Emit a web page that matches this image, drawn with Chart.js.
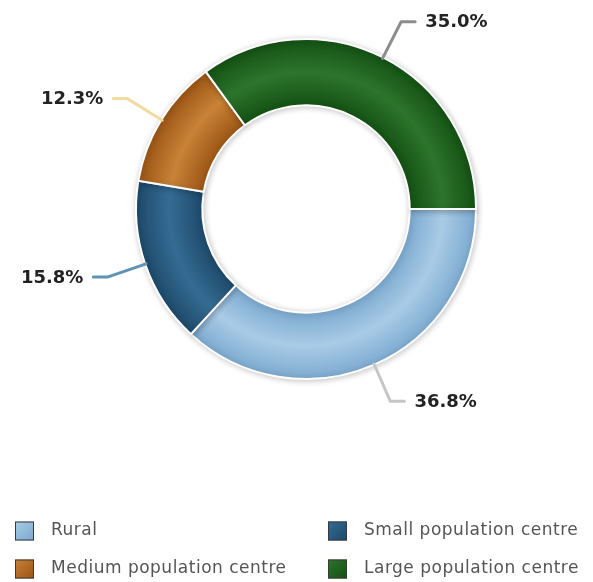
<!DOCTYPE html>
<html lang="en">
<head>
  <meta charset="UTF-8">
  <title>Population centre share</title>
  <style>
    html, body { margin: 0; padding: 0; background: #fff; }
    #wrap { width: 593px; height: 582px; }
  </style>
</head>
<body>
  <script src="https://cdn.jsdelivr.net/npm/chart.js"></script>
  <div id="wrap"><canvas id="myChart" width="593" height="582"></canvas></div>

<script>
  // data
  const categories = ['Rural', 'Small population centre', 'Medium population centre', 'Large population centre'];
  const shares = [36.8, 15.8, 12.3, 35.0];

  // colours: [light, dark] per slice, leader line colour per slice
  const sliceColors = [['#a9cbe6', '#7ba9cf'], ['#356c94', '#1d4868'], ['#c98236', '#9a5414'], ['#2d742d', '#135013']];
  const leaderColors = ['#c6c6c6', '#5f92b3', '#f0dba2', '#8c8c8c'];

  function sliceFill(context) {
    const chart = context.chart;
    const c = sliceColors[context.dataIndex];
    const area = chart.chartArea;
    if (!area) return c[0];
    const cx = (area.left + area.right) / 2, cy = (area.top + area.bottom) / 2;
    const r = Math.min(area.right - area.left, area.bottom - area.top) / 2;
    const g = chart.ctx.createRadialGradient(cx, cy, r * 0.6, cx, cy, r);
    g.addColorStop(0, c[1]);
    g.addColorStop(0.5, c[0]);
    g.addColorStop(1, c[1]);
    return g;
  }

  const shadowPlugin = {
    id: 'ringShadow',
    beforeDatasetsDraw(chart) {
      const ctx = chart.ctx;
      ctx.save();
      ctx.shadowColor = 'rgba(0,0,0,0.22)';
      ctx.shadowBlur = 6;
      ctx.shadowOffsetX = 1;
      ctx.shadowOffsetY = 1;
    },
    afterDatasetsDraw(chart) {
      chart.ctx.restore();
    }
  };

  const leaderLabels = {
    id: 'leaderLabels',
    afterDatasetsDraw(chart) {
      const ctx = chart.ctx;
      const meta = chart.getDatasetMeta(0);
      ctx.save();
      meta.data.forEach((arc, i) => {
        const p = arc.getProps(['x', 'y', 'startAngle', 'endAngle', 'outerRadius'], true);
        const mid = (p.startAngle + p.endAngle) / 2;
        const dx = Math.cos(mid), dy = Math.sin(mid);
        const x0 = p.x + dx * (p.outerRadius - 1), y0 = p.y + dy * (p.outerRadius - 1);
        const x1 = p.x + dx * (p.outerRadius + 40), y1 = p.y + dy * (p.outerRadius + 40);
        const side = dx >= 0 ? 1 : -1;
        const x2 = x1 + side * 14;
        ctx.beginPath();
        ctx.moveTo(x0, y0);
        ctx.lineTo(x1, y1);
        ctx.lineTo(x2, y1);
        ctx.strokeStyle = leaderColors[i];
        ctx.lineWidth = 3;
        ctx.lineJoin = 'round';
        ctx.lineCap = 'round';
        ctx.stroke();
        ctx.fillStyle = '#222';
        ctx.font = 'bold 18px "DejaVu Sans", sans-serif';
        ctx.textAlign = side > 0 ? 'left' : 'right';
        ctx.textBaseline = 'middle';
        ctx.fillText(shares[i].toFixed(1) + '%', x2 + side * 10, y1 + 1);
      });
      ctx.restore();
    }
  };

  const gridLegend = {
    id: 'gridLegend',
    afterDraw(chart) {
      const ctx = chart.ctx;
      const colX = [15, 328];
      const rowY = [531, 569];
      const box = 19;
      ctx.save();
      categories.forEach((name, i) => {
        const x = colX[i % 2], y = rowY[Math.floor(i / 2)];
        const c = sliceColors[i];
        const g = ctx.createLinearGradient(x, y - box / 2, x + box, y + box / 2);
        g.addColorStop(0, c[0]);
        g.addColorStop(1, c[1]);
        ctx.fillStyle = g;
        ctx.fillRect(x, y - box / 2, box, box);
        ctx.strokeStyle = '#3a3a3a';
        ctx.lineWidth = 1;
        ctx.strokeRect(x + 0.5, y - box / 2 + 0.5, box - 1, box - 1);
        ctx.fillStyle = '#555';
        ctx.font = '17px "DejaVu Sans", sans-serif';
        ctx.letterSpacing = '0.5px';
        ctx.textAlign = 'left';
        ctx.textBaseline = 'middle';
        ctx.fillText(name, x + box + 17, y);
      });
      ctx.restore();
    }
  };

  const config = {
    type: 'doughnut',
    data: {
      labels: categories,
      datasets: [{
        data: shares,
        backgroundColor: sliceFill,
        borderColor: '#ffffff',
        borderWidth: 2
      }]
    },
    options: {
      responsive: false,
      animation: false,
      rotation: 90,
      cutout: '61%',
      layout: {
        padding: { left: 135, right: 116, top: 38, bottom: 202 }
      },
      plugins: {
        legend: { display: false },
        tooltip: { enabled: false }
      }
    },
    plugins: [shadowPlugin, leaderLabels, gridLegend]
  };

  var myChart = new Chart(document.getElementById('myChart'), config);
</script>
</body>
</html>
